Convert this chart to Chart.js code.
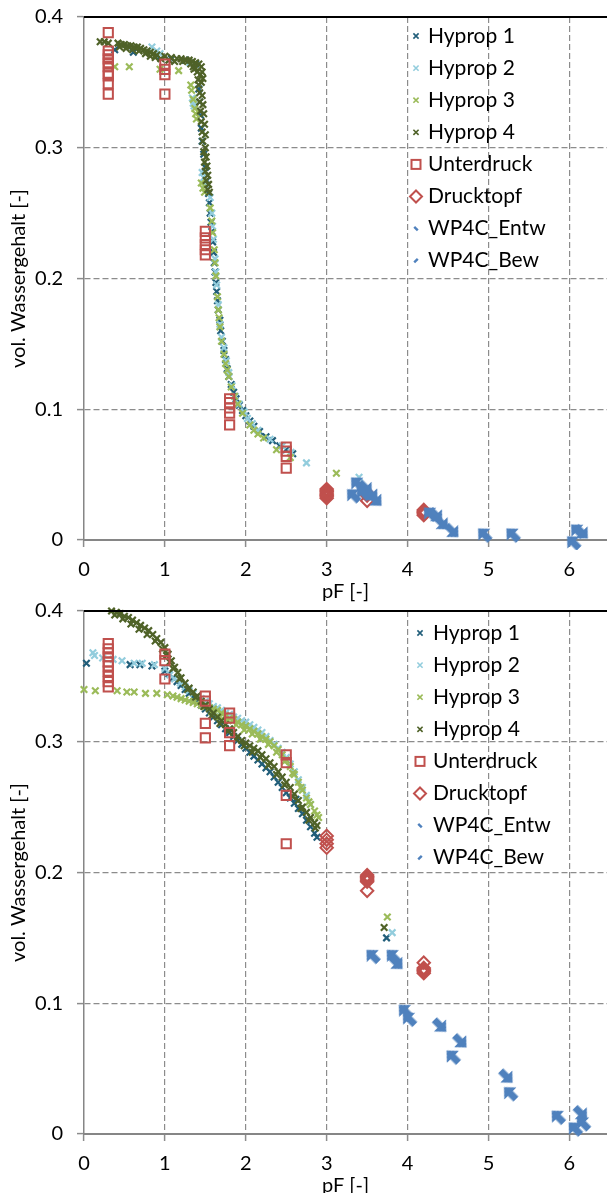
<!DOCTYPE html>
<html><head><meta charset="utf-8">
<script src="https://cdn.jsdelivr.net/npm/chart.js@4.4.1/dist/chart.umd.min.js"></script>
<style>
html,body{margin:0;padding:0;background:#fff;overflow:hidden;width:607px;height:1193px;}
.wrap{position:absolute;left:0;width:607px;height:610px;}
#w1{top:0;} #w2{top:594px;}
canvas{display:block;}
</style></head><body>
<div class="wrap" id="w1"><canvas id="c1" width="607" height="610"></canvas></div>
<div class="wrap" id="w2"><canvas id="c2" width="607" height="610"></canvas></div>
<script>
// ---------- axis ticks ----------
const X_TICKS = [0, 1, 2, 3, 4, 5, 6];
const Y_TICKS = [0, 0.1, 0.2, 0.3, 0.4];
const Y_TICK_LABELS = ['0', '0.1', '0.2', '0.3', '0.4'];
const SERIES_LABELS = ['Hyprop 1', 'Hyprop 2', 'Hyprop 3', 'Hyprop 4', 'Unterdruck', 'Drucktopf', 'WP4C_Entw', 'WP4C_Bew'];

// ---------- top chart data [pF, theta] ----------
const topHyprop1 = [[0.38,0.375],[0.61,0.373],[0.89,0.370],[1.08,0.368],[1.25,0.367],[1.38,0.364],
 [1.42,0.345],[1.43,0.335],[1.44,0.325],[1.45,0.315],[1.46,0.305],[1.48,0.295],[1.50,0.285],[1.52,0.275],[1.54,0.265],
 [1.55,0.258],[1.56,0.250],[1.57,0.243],[1.58,0.236],[1.59,0.228],[1.60,0.220],[1.61,0.212],[1.62,0.205],[1.63,0.197],
 [1.64,0.190],[1.65,0.183],[1.66,0.176],[1.68,0.168],[1.69,0.160],[1.71,0.152],[1.73,0.145],[1.75,0.138],[1.77,0.131],
 [1.79,0.125],[1.82,0.119],[1.85,0.113],[1.88,0.108],[1.92,0.103],[1.96,0.099],[2.00,0.095],[2.05,0.091],[2.10,0.087],
 [2.17,0.083],[2.25,0.079],[2.33,0.076],[2.42,0.072],[2.50,0.069],[2.58,0.066]];
const topHyprop2 = [[0.84,0.377],[0.90,0.374],[0.94,0.372],[1.31,0.365],[1.34,0.338],[1.35,0.334],[1.36,0.332],
 [1.46,0.281],[1.48,0.277],[1.50,0.272],[1.56,0.262],[1.58,0.250],[1.59,0.240],[1.60,0.230],[1.62,0.215],[1.63,0.205],
 [1.64,0.195],[1.66,0.180],[1.68,0.165],[1.70,0.155],[1.73,0.147],[1.76,0.137],[1.79,0.128],[1.83,0.118],[1.87,0.110],
 [1.92,0.104],[1.98,0.098],[2.02,0.093],[2.08,0.089],[2.15,0.084],[2.30,0.077],[2.45,0.072],[2.56,0.067],[2.75,0.059],[3.40,0.048]];
const topHyprop3 = [[0.38,0.362],[0.56,0.362],[0.94,0.360],[1.17,0.359],[1.32,0.348],[1.33,0.344],[1.35,0.337],[1.37,0.330],
 [1.38,0.326],[1.39,0.322],[1.45,0.273],[1.47,0.269],[1.49,0.266],[1.56,0.254],[1.58,0.244],[1.59,0.235],[1.61,0.222],
 [1.62,0.212],[1.63,0.202],[1.65,0.186],[1.66,0.176],[1.67,0.170],[1.68,0.163],[1.70,0.152],[1.73,0.142],[1.75,0.135],
 [1.77,0.130],[1.79,0.125],[1.82,0.117],[1.86,0.110],[1.90,0.104],[1.96,0.097],[2.05,0.088],[2.10,0.084],[2.15,0.081],
 [2.22,0.078],[2.38,0.069],[2.55,0.063],[3.12,0.051]];
const topHyprop4 = [[0.20,0.381],[0.25,0.381],[0.30,0.380],[0.42,0.380],[0.46,0.379],[0.50,0.379],[0.54,0.378],[0.58,0.378],
 [0.62,0.377],[0.66,0.377],[0.70,0.376],[0.74,0.375],[0.78,0.374],[0.82,0.373],[0.86,0.372],[0.90,0.371],[1.00,0.370],
 [1.08,0.369],[1.15,0.368],[1.20,0.368],[1.26,0.367],[1.30,0.367],[1.34,0.366],[1.38,0.365],[1.42,0.364],[1.45,0.362],
 [0.44,0.377],[0.52,0.376],[0.60,0.375],[0.68,0.374],[0.76,0.372],[0.82,0.370],[0.88,0.369],[0.95,0.368],[1.05,0.367],
 [1.12,0.366],[1.22,0.366],[1.32,0.364],[1.35,0.362],[1.38,0.361],[1.46,0.358],[1.47,0.353],
 [1.36,0.360],[1.40,0.358],[1.44,0.356],[1.41,0.352],[1.45,0.350],[1.42,0.348],[1.43,0.342],[1.46,0.340],[1.43,0.335],
 [1.47,0.333],[1.44,0.328],[1.48,0.326],[1.45,0.320],[1.49,0.318],[1.46,0.312],[1.50,0.310],[1.47,0.305],[1.50,0.300],
 [1.48,0.297],[1.51,0.293],[1.49,0.289],[1.52,0.286],[1.50,0.282],[1.53,0.279],[1.51,0.275],[1.54,0.272],[1.53,0.268],[1.55,0.266]];
const topUnterdruck = [[0.3,0.388],[0.3,0.374],[0.3,0.371],[0.3,0.368],[0.3,0.365],[0.3,0.362],[0.3,0.357],[0.3,0.355],[0.3,0.349],[0.3,0.341],
 [1.0,0.364],[1.0,0.360],[1.0,0.356],[1.0,0.341],
 [1.5,0.236],[1.5,0.231],[1.5,0.226],[1.5,0.222],[1.5,0.218],
 [1.8,0.108],[1.8,0.105],[1.8,0.101],[1.8,0.097],[1.8,0.088],
 [2.5,0.071],[2.5,0.068],[2.5,0.064],[2.5,0.055]];
const topDrucktopf = [[3.0,0.039],[3.0,0.038],[3.0,0.037],[3.0,0.036],[3.0,0.035],[3.0,0.034],[3.0,0.033],[3.0,0.032],
 [3.5,0.036],[3.5,0.035],[3.5,0.034],[3.5,0.030],
 [4.2,0.023],[4.2,0.022],[4.2,0.021],[4.2,0.020],[4.2,0.019]];
const topWP4CEntw = [[3.48,0.040],[3.55,0.035],[3.60,0.031],[4.35,0.019],[4.42,0.013],[4.55,0.007],[6.15,0.006]];
const topWP4CBew = [[3.38,0.043],[3.33,0.034],[3.45,0.036],[4.28,0.020],[4.95,0.004],[5.30,0.004],[6.05,-0.002],[6.10,0.007]];

// ---------- bottom chart data [pF, theta] ----------
const botHyprop1 = [[0.03,0.360],[0.57,0.359],[0.69,0.359],[0.84,0.358],[1.00,0.354],[1.05,0.352],[1.10,0.349],[1.15,0.346],
 [1.20,0.343],[1.25,0.340],[1.30,0.337],[1.35,0.334],[1.40,0.331],[1.45,0.328],[1.50,0.325],[1.55,0.322],[1.60,0.319],
 [1.65,0.316],[1.70,0.313],[1.75,0.310],[1.80,0.307],[1.85,0.304],[1.90,0.301],[1.95,0.298],[2.00,0.295],[2.05,0.292],
 [2.10,0.289],[2.15,0.286],[2.20,0.283],[2.25,0.280],[2.30,0.277],[2.35,0.273],[2.40,0.269],[2.45,0.265],[2.50,0.261],
 [2.55,0.257],[2.60,0.253],[2.62,0.256],[2.65,0.249],[2.70,0.245],[2.75,0.240],[2.80,0.235],[2.85,0.230],[2.88,0.227],[3.74,0.150]];
const botHyprop2 = [[0.11,0.368],[0.13,0.366],[0.23,0.364],[0.36,0.363],[0.47,0.362],[0.62,0.360],[0.72,0.360],[0.87,0.359],
 [1.00,0.356],[1.06,0.351],[1.12,0.348],[1.19,0.345],[1.25,0.342],[1.30,0.339],[1.35,0.337],[1.40,0.335],[1.45,0.333],
 [1.50,0.331],[1.55,0.329],[1.60,0.327],[1.65,0.326],[1.70,0.324],[1.75,0.322],[1.80,0.321],[1.85,0.319],[1.90,0.318],
 [1.95,0.316],[2.00,0.315],[2.05,0.313],[2.10,0.311],[2.15,0.309],[2.20,0.307],[2.25,0.304],[2.30,0.301],[2.35,0.298],
 [2.40,0.295],[2.45,0.292],[2.50,0.288],[2.55,0.283],[2.60,0.277],[2.65,0.271],[2.70,0.265],[2.75,0.259],[2.80,0.252],[3.81,0.154]];
const botHyprop3 = [[0.00,0.340],[0.14,0.339],[0.41,0.339],[0.53,0.338],[0.62,0.338],[0.76,0.337],[0.90,0.337],[1.03,0.336],
 [1.10,0.335],[1.15,0.334],[1.20,0.333],[1.25,0.332],[1.30,0.331],[1.35,0.330],[1.40,0.329],[1.45,0.328],[1.50,0.327],
 [1.55,0.326],[1.60,0.325],[1.65,0.324],[1.70,0.322],[1.75,0.320],[1.80,0.318],[1.85,0.317],[1.90,0.315],[1.95,0.313],
 [2.00,0.312],[2.05,0.310],[2.10,0.308],[2.15,0.306],[2.20,0.304],[2.25,0.302],[2.30,0.300],[2.35,0.297],[2.40,0.294],
 [2.45,0.290],[2.50,0.286],[2.55,0.281],[2.60,0.275],[2.65,0.269],[2.70,0.263],[2.75,0.257],[2.80,0.252],[2.85,0.247],[2.90,0.242],
 [1.58,0.323],[1.68,0.319],[1.78,0.316],[1.88,0.313],[1.98,0.309],[2.08,0.306],[2.18,0.302],[2.28,0.298],[2.38,0.292],
 [2.48,0.285],[2.58,0.276],[2.68,0.265],[2.78,0.254],[2.88,0.244],[3.75,0.166]];
const botHyprop4 = [[0.34,0.400],[0.40,0.399],[0.45,0.398],[0.50,0.396],[0.55,0.395],[0.60,0.393],[0.65,0.391],[0.70,0.389],
 [0.75,0.387],[0.80,0.385],[0.85,0.382],[0.90,0.379],[0.95,0.376],[1.00,0.372],[1.04,0.367],[1.08,0.362],[1.12,0.357],
 [1.16,0.353],[1.20,0.349],[1.25,0.345],[1.30,0.341],[1.35,0.338],[1.40,0.335],[1.45,0.331],[1.50,0.328],[1.55,0.325],
 [1.60,0.322],[1.65,0.319],[1.70,0.316],[1.75,0.313],[1.80,0.310],[1.85,0.307],[1.90,0.304],[1.95,0.301],[2.00,0.299],
 [2.05,0.297],[2.10,0.295],[2.15,0.293],[2.20,0.290],[2.25,0.287],[2.30,0.284],[2.35,0.281],[2.40,0.277],[2.45,0.273],
 [2.50,0.269],[2.55,0.265],[2.60,0.260],[2.65,0.255],[2.70,0.250],[2.75,0.246],[2.80,0.242],[2.85,0.238],[2.88,0.236],
 [0.38,0.397],[0.48,0.394],[0.58,0.390],[0.68,0.386],[0.78,0.382],[0.88,0.377],[0.97,0.371],[1.02,0.366],[1.06,0.361],
 [1.10,0.356],[1.18,0.348],[1.28,0.340],[1.38,0.334],[1.48,0.327],[1.58,0.320],[1.68,0.314],[1.78,0.308],[1.88,0.302],
 [1.98,0.297],[2.08,0.292],[2.18,0.288],[2.28,0.282],[2.38,0.275],[2.48,0.267],[2.58,0.258],[2.68,0.249],[2.78,0.240],[2.86,0.234],
 [3.71,0.158]];
const botUnterdruck = [[0.3,0.375],[0.3,0.371],[0.3,0.368],[0.3,0.365],[0.3,0.361],[0.3,0.358],[0.3,0.354],[0.3,0.350],[0.3,0.346],[0.3,0.342],
 [1.0,0.367],[1.0,0.362],[1.0,0.348],
 [1.5,0.335],[1.5,0.331],[1.5,0.314],[1.5,0.303],
 [1.8,0.322],[1.8,0.318],[1.8,0.307],[1.8,0.297],
 [2.5,0.290],[2.5,0.284],[2.5,0.259],[2.5,0.222]];
const botDrucktopf = [[3.0,0.228],[3.0,0.225],[3.0,0.222],[3.0,0.219],
 [3.5,0.198],[3.5,0.197],[3.5,0.196],[3.5,0.195],[3.5,0.194],[3.5,0.193],[3.5,0.186],
 [4.2,0.131],[4.2,0.127],[4.2,0.126],[4.2,0.125],[4.2,0.124],[4.2,0.123]];
const botWP4CEntw = [[3.86,0.131],[4.40,0.083],[4.65,0.071],[5.22,0.044],[6.14,0.016]];
const botWP4CBew = [[3.57,0.136],[3.82,0.136],[3.97,0.094],[4.02,0.088],[4.56,0.059],[5.27,0.031],[5.86,0.013],[6.07,0.004],[6.17,0.008]];

// ---------- styling ----------
const COL = { h1:'#215e7a', h2:'#93cddd', h3:'#9bbb59', h4:'#4f6228', red:'#c0504d', wp:'#4f81bd' };
const FONT = 'Lato';
const GRID = '#8c8c8c';
const toXY = pts => pts.map(p => ({x: p[0], y: p[1]}));

function makeArrow(color) {
  const c = document.createElement('canvas'); c.width = 18; c.height = 18;
  const g = c.getContext('2d'); g.fillStyle = color;
  g.beginPath(); g.moveTo(9,0); g.lineTo(17.5,9); g.lineTo(12.5,9); g.lineTo(12.5,17); g.lineTo(5.5,17); g.lineTo(5.5,9); g.lineTo(0.5,9);
  g.closePath(); g.fill();
  return c;
}
const ARROW = makeArrow(COL.wp);

function crossDs(label, pts, color, order) {
  return { label, data: toXY(pts), pointStyle:'crossRot', pointRadius:4.6, pointBorderWidth:2.2,
    borderColor:color, backgroundColor:color, order, clip:10, kind:'cross' };
}
function markDs(label, pts, style, order, kind) {
  return { label, data: toXY(pts), pointStyle: style, pointRadius: kind==='square' ? 6.5 : 6.2, pointBorderWidth:2,
    borderColor:COL.red, backgroundColor:'rgba(0,0,0,0)', order, clip:10, kind };
}
function wpDs(label, pts, rot, order, kind) {
  return { label, data: toXY(pts), pointStyle: ARROW, pointRotation: rot, pointRadius:9,
    borderColor:COL.wp, backgroundColor:COL.wp, order, clip:10, kind };
}

const decor = {
  id: 'decor',
  afterDraw(chart, args, o) {
    const ctx = chart.ctx, ca = chart.chartArea;
    const yTop = chart.scales.y.getPixelForValue(0.4);
    ctx.save();
    ctx.strokeStyle = '#000'; ctx.lineWidth = 2;
    ctx.beginPath(); ctx.moveTo(ca.left, yTop); ctx.lineTo(chart.width, yTop); ctx.stroke();
    ctx.font = '21px ' + FONT; ctx.textBaseline = 'middle'; ctx.fillStyle = '#000';
    chart.data.datasets.forEach((ds, i) => {
      const y = o.y0 + i * o.dy, x = o.mx;
      ctx.save();
      ctx.strokeStyle = ds.borderColor; ctx.fillStyle = ds.borderColor;
      if (ds.kind === 'cross') {
        ctx.lineWidth = 1.6; const s = 2.6;
        ctx.beginPath(); ctx.moveTo(x-s,y-s); ctx.lineTo(x+s,y+s); ctx.moveTo(x-s,y+s); ctx.lineTo(x+s,y-s); ctx.stroke();
      } else if (ds.kind === 'square') {
        ctx.lineWidth = 2; ctx.strokeRect(x-4.5, y-4.5, 9, 9);
      } else if (ds.kind === 'diamond') {
        ctx.lineWidth = 2; ctx.beginPath(); ctx.moveTo(x, y-6); ctx.lineTo(x+6, y); ctx.lineTo(x, y+6); ctx.lineTo(x-6, y); ctx.closePath(); ctx.stroke();
      } else {
        ctx.translate(x, y); ctx.rotate(ds.kind === 'wpE' ? Math.PI/4 : -Math.PI/4);
        ctx.fillRect(-2.5, -1.2, 5, 2.4);
      }
      ctx.restore();
      ctx.fillText(ds.label, o.tx, y);
    });
    ctx.restore();
  }
};

function buildDatasets(h1, h2, h3, h4, unt, dr, we, wb) {
  return [
    crossDs(SERIES_LABELS[0], h1, COL.h1, 8),
    crossDs(SERIES_LABELS[1], h2, COL.h2, 7),
    crossDs(SERIES_LABELS[2], h3, COL.h3, 6),
    crossDs(SERIES_LABELS[3], h4, COL.h4, 5),
    markDs(SERIES_LABELS[4], unt, 'rect', 4, 'square'),
    markDs(SERIES_LABELS[5], dr, 'rectRot', 3, 'diamond'),
    wpDs(SERIES_LABELS[6], we, 135, 2, 'wpE'),
    wpDs(SERIES_LABELS[7], wb, -45, 1, 'wpB')
  ];
}

function makeChart(id, datasets, legendOpts) {
  const font = { family: FONT, size: 20 };
  return new Chart(document.getElementById(id), {
    type: 'scatter',
    data: { datasets },
    plugins: [decor],
    options: {
      responsive: false, animation: false, events: [],
      layout: { autoPadding: false, padding: { top: 17, right: 0, left: 0, bottom: 0 } },
      plugins: { legend: { display: false }, tooltip: { enabled: false }, decor: legendOpts },
      scales: {
        x: {
          type: 'linear', min: 0, max: 6.465,
          afterBuildTicks: s => { s.ticks = X_TICKS.map(v => ({ value: v })); },
          afterFit: s => { s.height = 70; s.paddingLeft = 0; s.paddingRight = 0; },
          ticks: { font, color: '#000', padding: 11, maxRotation: 0, autoSkip: false, callback: v => String(v) },
          grid: { color: c => (c.tick && c.tick.value === 0) ? 'rgba(0,0,0,0)' : GRID, lineWidth: 1.2,
                  tickColor: GRID, tickLength: 7, tickWidth: 1.5 },
          border: { color: '#868686', width: 2, dash: [6, 3] },
          title: { display: true, text: 'pF [-]', font, color: '#000', padding: { top: 0, bottom: 6 } }
        },
        y: {
          type: 'linear', min: 0, max: 0.4,
          afterBuildTicks: s => { s.ticks = Y_TICKS.map(v => ({ value: v })); },
          afterFit: s => { s.width = 84; s.paddingTop = 0; s.paddingBottom = 0; },
          ticks: { font, color: '#000', padding: 14, autoSkip: false, callback: (v, i) => Y_TICK_LABELS[i] },
          grid: { color: c => (c.tick && (c.tick.value === 0 || c.tick.value === 0.4)) ? 'rgba(0,0,0,0)' : GRID,
                  lineWidth: 1.2, tickColor: GRID, tickLength: 7, tickWidth: 1.5 },
          border: { color: '#868686', width: 1.5, dash: [6, 3] },
          title: { display: true, text: 'vol. Wassergehalt [-]', font, color: '#000', padding: { top: 7, bottom: 0 } }
        }
      }
    }
  });
}

makeChart('c1', buildDatasets(topHyprop1, topHyprop2, topHyprop3, topHyprop4, topUnterdruck, topDrucktopf, topWP4CEntw, topWP4CBew),
  { mx: 416, tx: 428, y0: 36, dy: 32.1 });
makeChart('c2', buildDatasets(botHyprop1, botHyprop2, botHyprop3, botHyprop4, botUnterdruck, botDrucktopf, botWP4CEntw, botWP4CBew),
  { mx: 420, tx: 433, y0: 39, dy: 32.1 });
</script>
</body></html>
